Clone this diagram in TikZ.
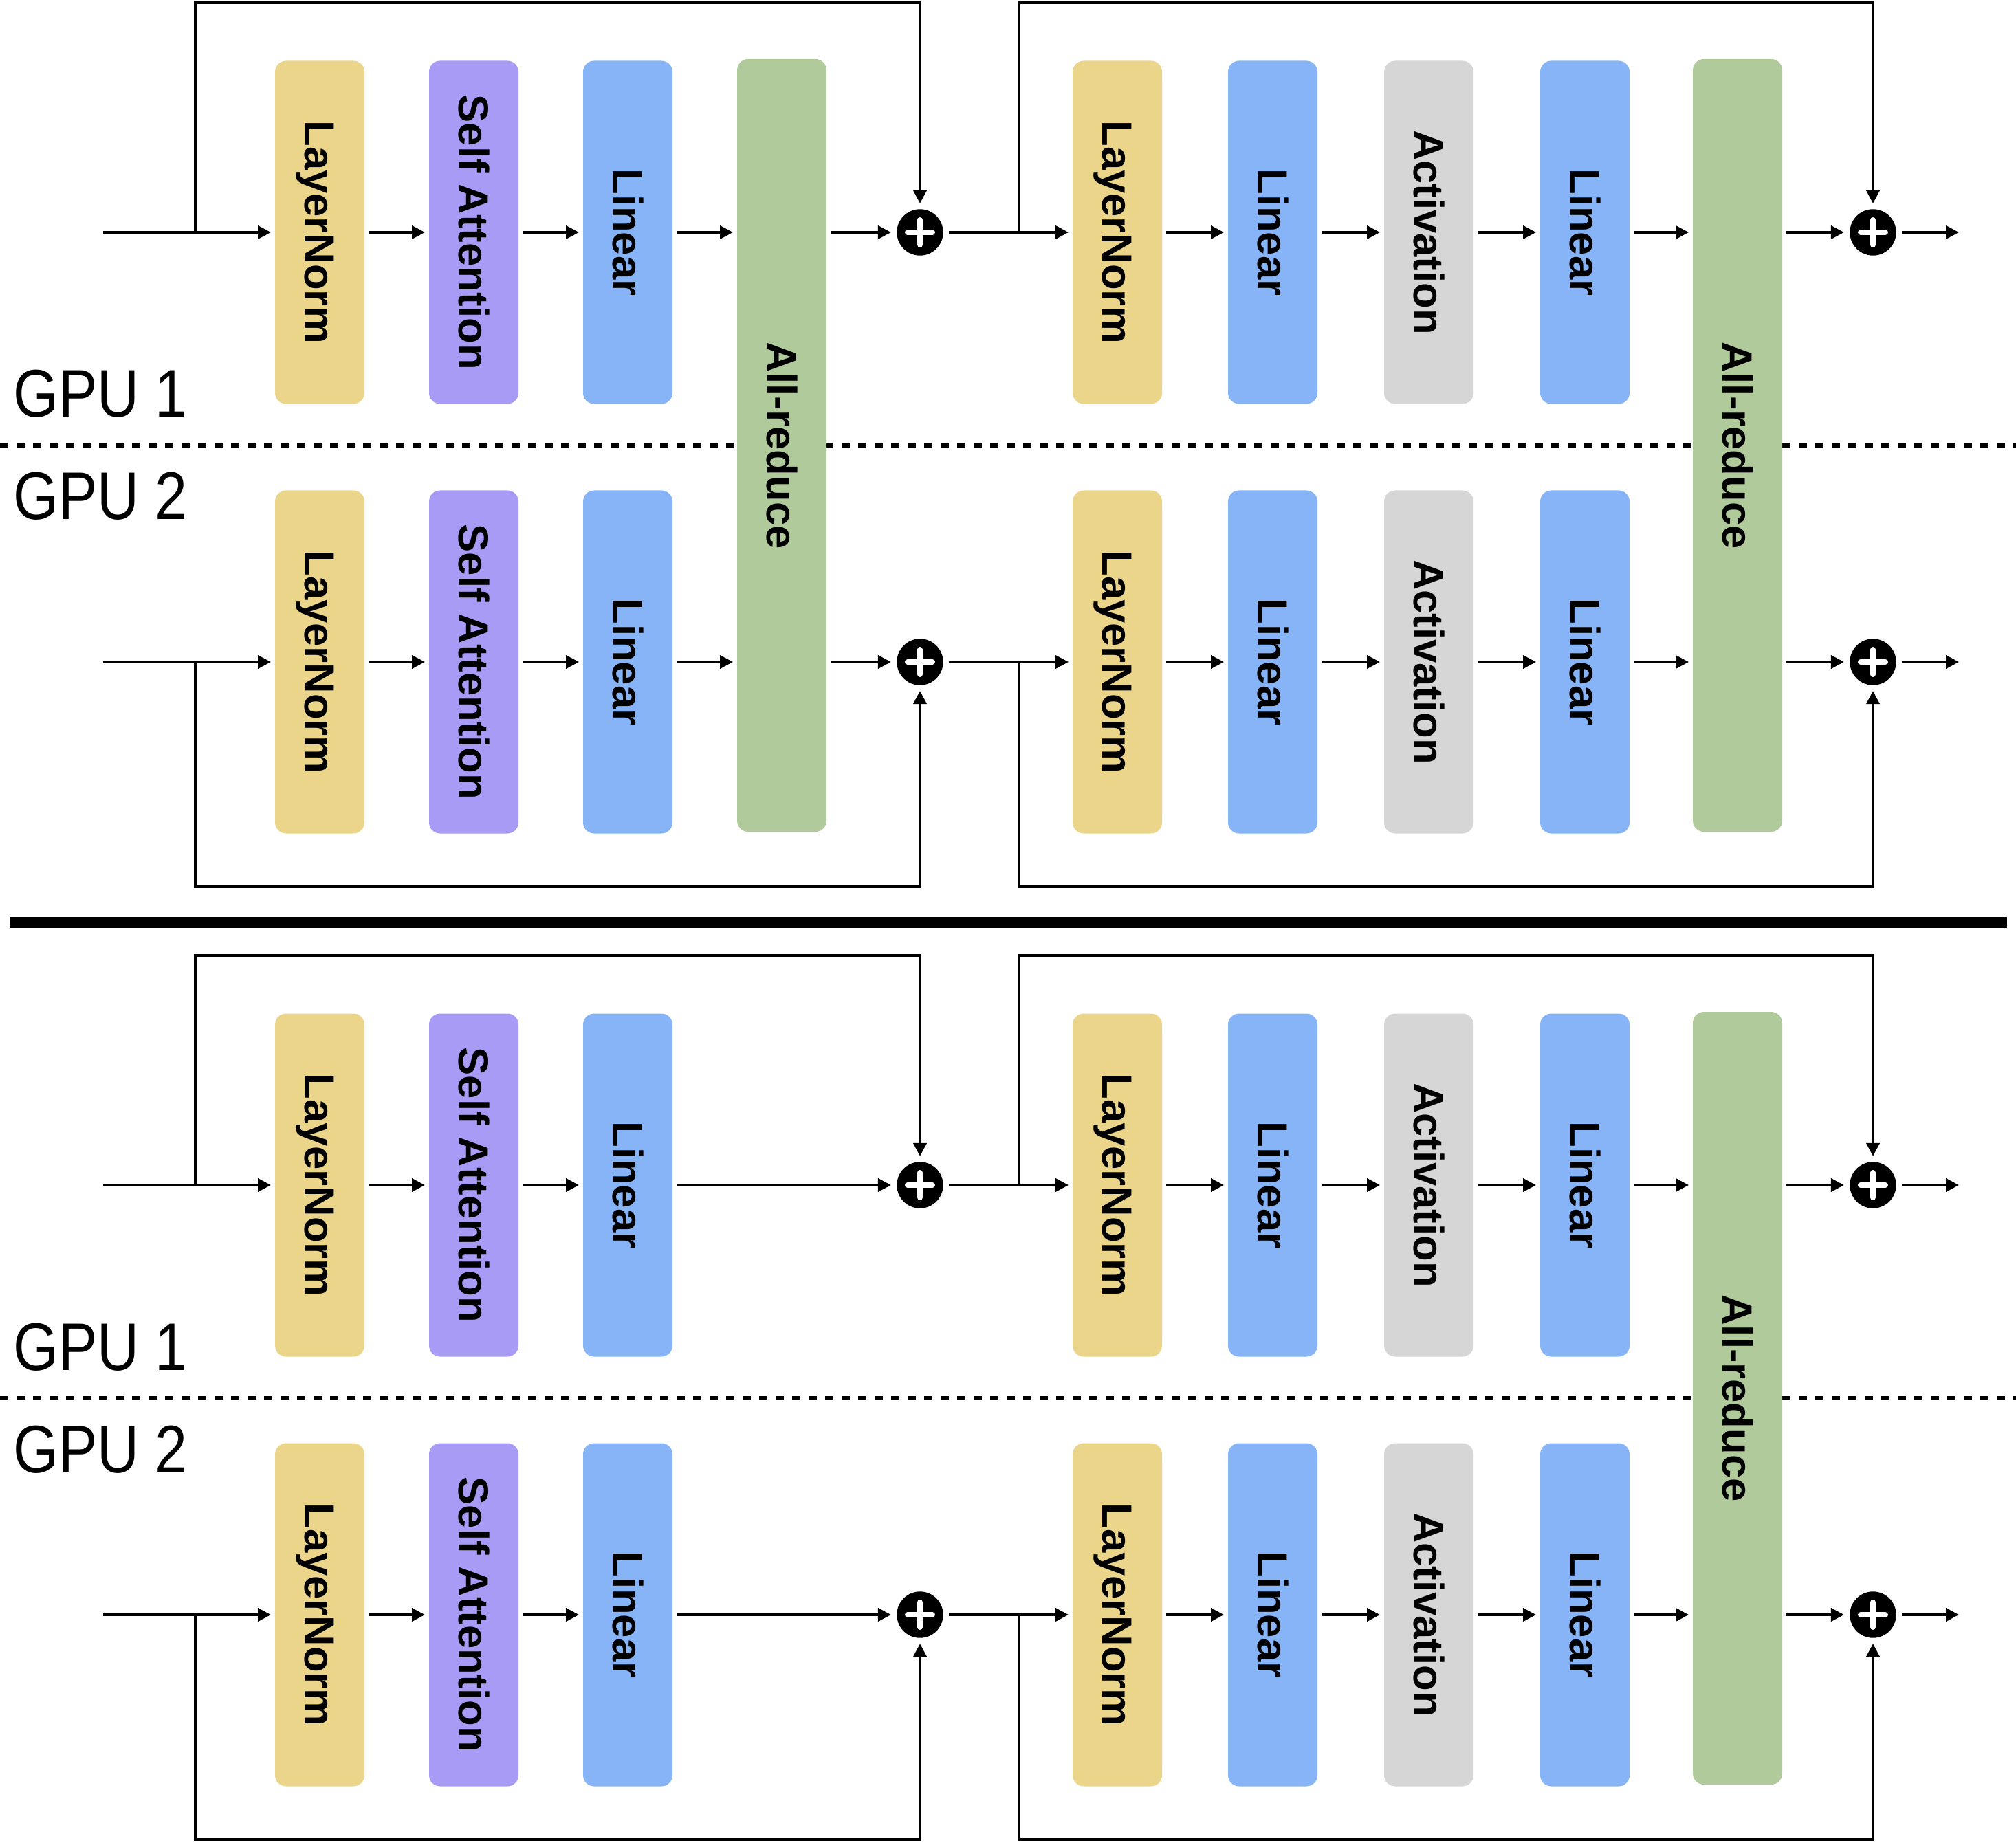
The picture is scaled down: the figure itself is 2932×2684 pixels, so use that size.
\documentclass[tikz,border=0pt]{standalone}
\usepackage{fontspec}
\setmainfont{Liberation Sans}
\newfontfamily\gpufont[FakeStretch=0.86]{Liberation Sans}
\usetikzlibrary{arrows.meta}
\definecolor{normcol}{RGB}{235,213,139}
\definecolor{attncol}{RGB}{168,155,245}
\definecolor{lincol}{RGB}{135,180,246}
\definecolor{actcol}{RGB}{214,214,214}
\definecolor{redcol}{RGB}{176,202,155}

\begin{document}
\begin{tikzpicture}[x=0.25pt,y=-0.25pt,
  layer/.style={rounded corners=4pt,minimum width=32.5pt,minimum height=124.75pt,inner sep=0pt,outer sep=0pt},
  vtext/.style={rotate=-90,inner sep=0pt,text height=11pt,text depth=0pt,font=\bfseries\fontsize{15.4}{18}\selectfont},
  reduce/.style={layer,fill=redcol,minimum height=281pt,label={[vtext]center:All-reduce}},
  plus/.style={circle,fill=black,minimum size=16.85pt,inner sep=0pt,outer sep=0.6pt,
    path picture={\draw[white,line width=2pt,line cap=round]
      ([xshift=-4.5pt]path picture bounding box.center) -- ([xshift=4.5pt]path picture bounding box.center)
      ([yshift=-4.5pt]path picture bounding box.center) -- ([yshift=4.5pt]path picture bounding box.center);}},
  arr/.style={-{Triangle[length=4.75pt,width=4.75pt]},line width=1pt,shorten >=1.5pt,shorten <=1.5pt},
  gpu/.style={anchor=base west,inner sep=0pt,font=\gpufont\fontsize{24.5}{28}\selectfont},
  sep/.style={line width=1.67pt,dash pattern=on 2.9pt off 3.1pt}]
\useasboundingbox (0,0) rectangle (2932,2684);

% GPU borders and panel divider
\draw[sep] (0,648) -- (2932,648);
\draw[sep] (0,2034) -- (2932,2034);
\draw[line width=4.2pt] (15,1342) -- (2919,1342);

\node[gpu] (gpua) at (19,607) {GPU 1};
\node[gpu] (gpub) at (19,756) {GPU 2};
\node[gpu] (gpuc) at (19,1993) {GPU 1};
\node[gpu] (gpud) at (19,2142) {GPU 2};

% all-reduce blocks
\node[reduce] (ar1) at (1137,648) {};
\node[reduce] (ar2) at (2527,648) {};
\node[reduce] (ar3) at (2527,2034) {};

% one row per GPU and panel
\foreach \r/\y/\s/\m in {a/338/4/ar2,b/963/1290/ar2,c/1724/1390/ar3,d/2349/2676/ar3}{
  \node[layer,fill=normcol,label={[vtext]center:LayerNorm}] (ln\r) at (465,\y) {};
  \node[layer,fill=attncol,label={[vtext]center:Self Attention}] (sa\r) at (689,\y) {};
  \node[layer,fill=lincol,label={[vtext]center:Linear}] (lin\r) at (913,\y) {};
  \node[plus] (p\r) at (1338,\y) {};
  \node[layer,fill=normcol,label={[vtext]center:LayerNorm}] (nm\r) at (1625,\y) {};
  \node[layer,fill=lincol,label={[vtext]center:Linear}] (fa\r) at (1851,\y) {};
  \node[layer,fill=actcol,label={[vtext]center:Activation}] (act\r) at (2078,\y) {};
  \node[layer,fill=lincol,label={[vtext]center:Linear}] (fb\r) at (2305,\y) {};
  \node[plus] (q\r) at (2724,\y) {};
  \coordinate (in\r) at (144,\y);
  \coordinate (out\r) at (2855,\y);
  \coordinate (br\r) at (284,\y);
  \coordinate (sk\r) at (284,\s);
  \coordinate (bq\r) at (1482,\y);
  \coordinate (sq\r) at (1482,\s);
  \draw[arr] (in\r) -- (ln\r);
  \draw[arr] (ln\r) -- (sa\r);
  \draw[arr] (sa\r) -- (lin\r);
  \draw[arr] (p\r) -- (nm\r);
  \draw[arr] (nm\r) -- (fa\r);
  \draw[arr] (fa\r) -- (act\r);
  \draw[arr] (act\r) -- (fb\r);
  \draw[arr] (fb\r) -- (fb\r -| \m.west);
  \draw[arr] (\m.east |- q\r) -- (q\r);
  \draw[arr] (q\r) -- (out\r);
  \draw[arr,shorten <=0pt] (br\r) -- (sk\r) -| (p\r);
  \draw[arr,shorten <=0pt] (bq\r) -- (sq\r) -| (q\r);
}

\draw[arr] (lina) -- (lina -| ar1.west);
\draw[arr] (ar1.east |- pa) -- (pa);
\draw[arr] (linb) -- (linb -| ar1.west);
\draw[arr] (ar1.east |- pb) -- (pb);
\draw[arr] (linc) -- (pc);
\draw[arr] (lind) -- (pd);
\end{tikzpicture}
\end{document}
